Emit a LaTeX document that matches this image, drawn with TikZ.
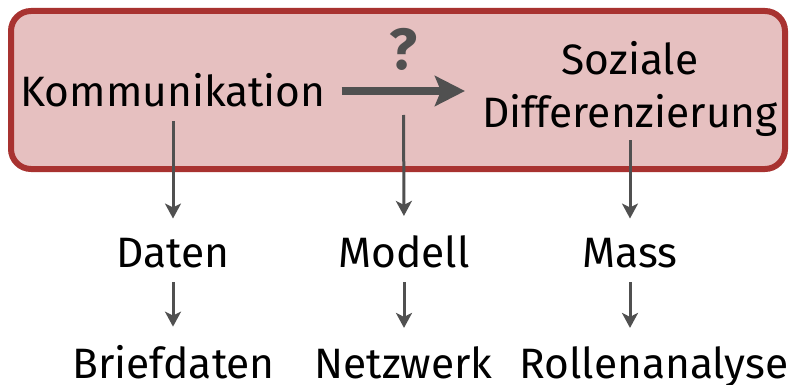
\documentclass[tikz,border=0pt]{standalone}
\usepackage{fontspec}
\setmainfont{Fira Sans}
\usetikzlibrary{arrows.meta}
\definecolor{rahmenrot}{RGB}{168,50,48}
\definecolor{rahmenfill}{RGB}{230,192,192}
\definecolor{pfeilgrau}{RGB}{80,80,80}
\tikzset{
  begriff/.style={inner sep=0pt, anchor=base, font=\fontsize{42.5}{53}\selectfont},
  pfeil/.style={-{Stealth[length=15pt,width=16pt,inset=4pt]}, line width=3pt, draw=pfeilgrau},
  dick/.style={-{Stealth[length=30pt,width=30pt,inset=6pt]}, line width=8pt, draw=pfeilgrau}
}
\begin{document}
\begin{tikzpicture}[x=1pt, y=-1pt]
        \useasboundingbox (0,0) rectangle (792,385);
        % rahmen
        \draw[rahmenrot, fill=rahmenfill, line width=6pt, rounded corners=20pt] (11,11) rectangle (785,169);

        % oben
        \node[begriff] (komm) at (173, 107) {Kommunikation};
        \node[begriff, align=center] (sozial) at (630, 128) {Soziale\\Differenzierung};
        \coordinate (mitte) at (403.5, 91);
        \draw[dick, shorten <=16pt, shorten >=17pt] (komm.east |- mitte) -- (sozial.west |- mitte);
        \node[begriff, font=\fontsize{58}{60}\selectfont\bfseries, text=pfeilgrau] (frage) at (mitte |- 0, 70) {?};

        % mitte
        \node[begriff] (daten) at (173, 267) {Daten};
        \node[begriff] (modell) at (404, 267) {Modell};
        \node[begriff] (mass) at (630, 267) {Mass};
        \draw[pfeil, shorten <=14pt, shorten >=19pt] (komm.base) -- (daten.north);
        \draw[pfeil, shorten <=24pt, shorten >=19pt] (mitte) -- (modell.north);
        \draw[pfeil, shorten <=3pt, shorten >=19pt] (sozial.south) -- (mass.north);

        % unten
        \node[begriff] (brief) at (173.5, 378) {Briefdaten};
        \node[begriff] (netz) at (403.5, 378) {Netzwerk};
        \node[begriff] (rollen) at (654, 378) {Rollenanalyse};
        \draw[pfeil, shorten <=15pt, shorten >=18pt] (daten.base) -- (daten.base |- brief.north);
        \draw[pfeil, shorten <=15pt, shorten >=18pt] (modell.base) -- (modell.base |- netz.north);
        \draw[pfeil, shorten <=15pt, shorten >=18pt] (mass.base) -- (mass.base |- rollen.north);
    \end{tikzpicture}
\end{document}
